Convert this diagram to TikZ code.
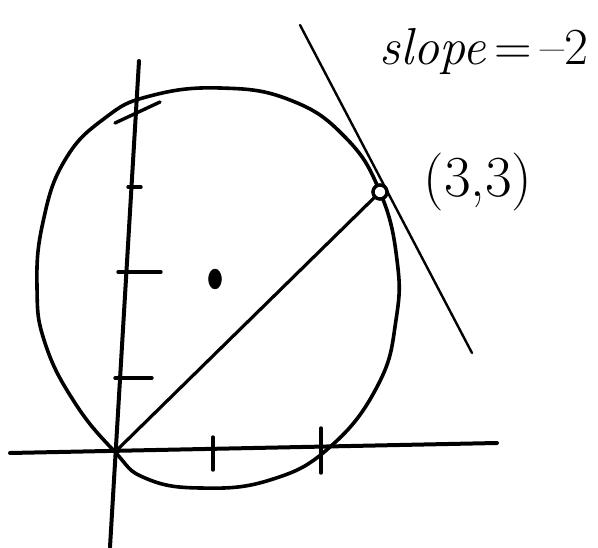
\documentclass[tikz,border=0pt]{standalone}
\usetikzlibrary{shapes.geometric}
\begin{document}
\begin{tikzpicture}[x=1pt, y=-1pt, line cap=round, line join=round,
                    axis/.style={line width=4pt},
                    curve/.style={line width=3.6pt},
                    ticks/.style={line width=3.4pt},
                    chord/.style={line width=3.2pt},
                    thin line/.style={line width=2.4pt},
                    center dot/.style={ellipse,draw,fill,inner sep=0pt,minimum width=13pt,minimum height=20pt},
                    touch point/.style={circle,draw,line width=3.2pt,inner sep=0pt,minimum size=14pt},
                    hand/.style={font=\fontsize{52}{62}\selectfont}]
  \useasboundingbox (0,0) rectangle (598,548);

  % axes
  \coordinate (xl) at (10,453);
  \coordinate (xr) at (497,443);
  \coordinate (yt) at (139,61);
  \coordinate (yb) at (110,547);
  \draw[axis] (xl) -- (xr);
  \draw[axis] (yt) -- (yb);

  % ticks
  \foreach \ya/\xa/\xb in {187/128/141, 272/118/161, 378/115/152}
    \draw[ticks] (\xa,\ya) -- (\xb,\ya);
  \foreach \xa/\ya/\yb in {213/437/470, 321/428/473}
    \draw[ticks] (\xa,\ya) -- (\xa,\yb);
  \draw[ticks] (115,123) -- (160,102);

  % circle
  \draw[curve] plot[smooth cycle, tension=0.75] coordinates {
    (220,88) (290,100) (345,137) (380,192) (397,260) (396,320) (378,385)
    (330,447) (270,480) (200,488) (145,478) (115,452) (75,403) (45,343)
    (37,287) (43,222) (65,160) (105,118) (150,96)};

  \coordinate (O) at (115,452);
  \node[center dot] (C) at (215,279) {};
  \node[touch point, fill=white] (P) at (380,192) {};

  % chord and tangent
  \coordinate (T1) at (300,25);
  \coordinate (T2) at (472,353);
  \draw[chord] (O) -- (P);
  \draw[thin line] (T1) -- (T2);
  \node[touch point] at (P) {};

  % labels
  \node[hand] (slope) at (484,52) {\textit{slope}\,=\,--2};
  \node[hand, font=\fontsize{58}{68}\selectfont] (P label) at (478,182) {(3,3)};
\end{tikzpicture}
\end{document}
